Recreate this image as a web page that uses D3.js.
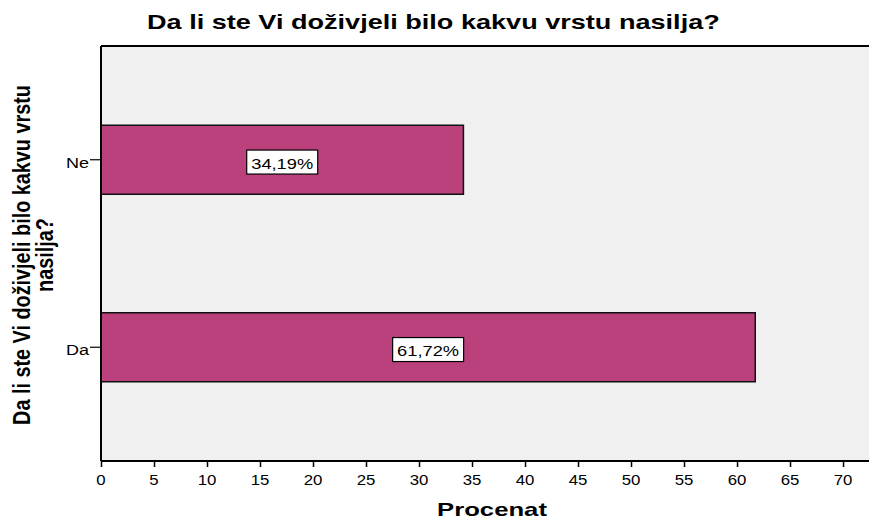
<!DOCTYPE html>
<html><head><meta charset="utf-8">
<script src="https://cdn.jsdelivr.net/npm/d3@7/dist/d3.min.js"></script>
<style>body{margin:0;background:#fff}svg{display:block}</style>
</head><body>
<svg id="c" width="869" height="519"></svg>
<script>
const categories = ["Ne", "Da"];
const values = [34.19, 61.72];
const valueLabels = ["34,19%", "61,72%"];
const xTicks = [0,5,10,15,20,25,30,35,40,45,50,55,60,65,70];
const title = "Da li ste Vi doživjeli bilo kakvu vrstu nasilja?";
const xTitle = "Procenat";
const yTitle = ["Da li ste Vi doživjeli bilo kakvu vrstu", "nasilja?"];

const svg = d3.select("#c");
const L = 101, R = 869, T = 46, B = 461;
const SX = 1.2; // horizontal stretch of the original export
const x = d3.scaleLinear().domain([0, 72.45]).range([L, R]);
const y = d3.scaleBand().domain(categories).range([T, B]).paddingInner(0.632).paddingOuter(0.4227);
const font = "Arial, 'Liberation Sans', sans-serif";

function putText(parent, str, ax, ay, size, bold, anchor, w) {
  const t = parent.append("text").attr("font-family", font).attr("font-size", size)
    .attr("font-weight", bold ? "bold" : "normal").attr("fill", "#000")
    .attr("text-anchor", anchor).text(str);
  const len = t.node().getComputedTextLength();
  const s = w ? w / len : SX;
  t.attr("transform", `translate(${ax},${ay}) scale(${s},1)`);
  return t;
}

svg.append("rect").attr("x", L).attr("y", T).attr("width", R - L).attr("height", B - T).attr("fill", "#F0F0F0");
svg.append("line").attr("x1", L).attr("x2", R).attr("y1", T).attr("y2", T).attr("stroke", "#000").attr("stroke-width", 2);

svg.selectAll("rect.bar").data(categories).enter().append("rect").attr("class", "bar")
  .attr("x", x(0)).attr("y", d => y(d))
  .attr("width", (d, i) => x(values[i]) - x(0)).attr("height", y.bandwidth())
  .attr("fill", "#BB417C").attr("stroke", "#111").attr("stroke-width", 1.5);

// x axis
const xa = svg.append("g").attr("transform", `translate(0,${B})`)
  .call(d3.axisBottom(x).tickValues(xTicks).tickSize(6).tickSizeOuter(0).tickFormat(""));
xa.select(".domain").attr("stroke-width", 2).attr("d", `M${L},0H${R}`);
xa.selectAll(".tick line").attr("stroke-width", 1.5);
xTicks.forEach(v => putText(svg, d3.format("d")(v), x(v), 485, 14, false, "middle", null));

// y axis
const ya = svg.append("g").attr("transform", `translate(${L},0)`)
  .call(d3.axisLeft(y).tickSize(11).tickSizeOuter(0).tickFormat(""));
ya.select(".domain").attr("stroke-width", 2).attr("d", `M0,${T}V${B}`);
ya.selectAll(".tick line").attr("stroke-width", 1.2);
categories.forEach(c => putText(svg, c, 89, y(c) + y.bandwidth() / 2 + 8, 14, false, "end", 23));

// value labels
categories.forEach((c, i) => {
  const cx = (x(0) + x(values[i])) / 2, cy = y(c) + y.bandwidth() / 2 + 2.3;
  svg.append("rect").attr("x", cx - 35.5).attr("y", cy - 12).attr("width", 71).attr("height", 24)
    .attr("fill", "#fff").attr("stroke", "#000").attr("stroke-width", 1.2);
  putText(svg, valueLabels[i], cx, cy + 6.5, 15, false, "middle", 62);
});

// titles
putText(svg, title, 147, 29, 20, true, "start", 573);
putText(svg, xTitle, 492, 516, 18, true, "middle", 110);

// y title (rotated, stretched along screen x)
const ySX = 1.25;
const probe = svg.append("text").attr("font-family", font).attr("font-weight", "bold").attr("font-size", 20).text(yTitle[0]);
const fs = 20 * 340 / probe.node().getComputedTextLength();
probe.remove();
[30, 53].forEach((bx, i) => {
  svg.append("text").attr("transform", `translate(${bx},255) scale(${ySX},1) rotate(-90)`)
    .attr("text-anchor", "middle").attr("font-family", font).attr("font-weight", "bold")
    .attr("font-size", fs).attr("fill", "#000").text(yTitle[i]);
});
</script>
</body></html>
